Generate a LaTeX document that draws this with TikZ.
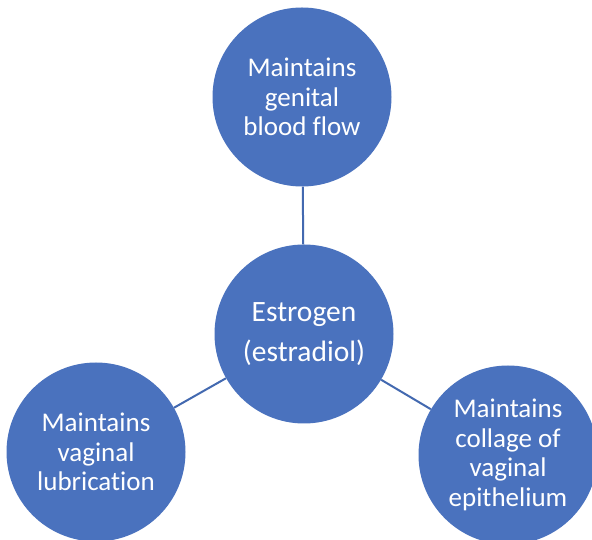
\documentclass[tikz,border=0pt]{standalone}
\usepackage{fontspec}
\setmainfont[Ligatures=NoCommon]{Carlito}
\definecolor{cblue}{HTML}{4A72BE}
\definecolor{lblue}{HTML}{4369B0}
\begin{document}
\begin{tikzpicture}[x=1pt,y=1pt,
  bub/.style={circle, fill=cblue, minimum size=179pt, inner sep=0pt, text=white, align=center,
    font=\fontsize{27}{29.5}\selectfont},
  conn/.style={draw=lblue, line width=2pt}]
\useasboundingbox (0,0) rectangle (592,540);
\clip (0,0) rectangle (592,540);
\fill[white] (0,0) rectangle (592,540);
\node[bub] (t) at (302,443) {Maintains\\genital\\blood flow};
\node[bub, font=\fontsize{29.5}{40}\selectfont] (c) at (304,206) {Estrogen\\(estradiol)};
\node[bub] (l) at (96,88) {Maintains\\vaginal\\lubrication};
\node[bub] (r) at (508,85) {Maintains\\collage of\\vaginal\\epithelium};
\draw[conn] (c) -- (t);
\draw[conn] (c) -- (l);
\draw[conn] (c) -- (r);
\end{tikzpicture}
\end{document}
